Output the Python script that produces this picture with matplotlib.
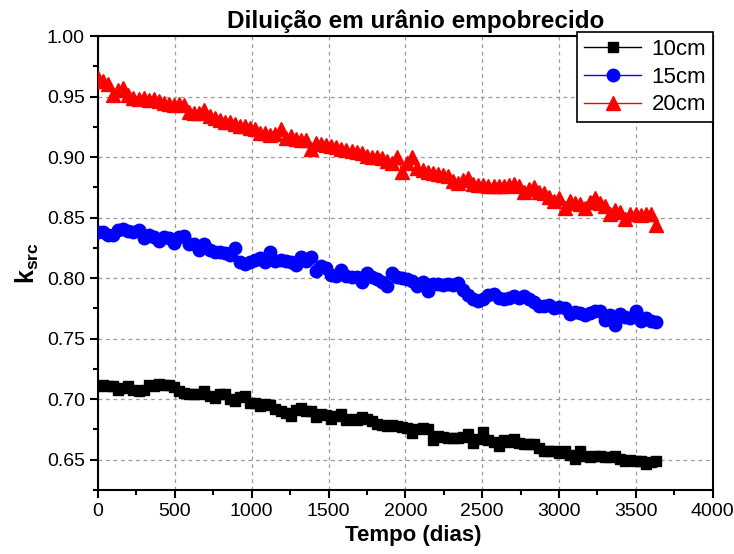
import matplotlib
matplotlib.use("Agg")
import matplotlib.pyplot as plt
from matplotlib.ticker import MultipleLocator

plt.rcParams['font.family'] = ['Liberation Sans', 'DejaVu Sans']
plt.rcParams['mathtext.fontset'] = 'custom'
plt.rcParams['mathtext.rm'] = 'Liberation Sans'
plt.rcParams['mathtext.bf'] = 'Liberation Sans:bold'

days = list(range(0, 3631, 33))

k_10cm = [0.711, 0.712, 0.711, 0.711, 0.708, 0.709, 0.711, 0.708, 0.707, 0.708,
          0.712, 0.711, 0.7125, 0.712, 0.712, 0.710, 0.707, 0.705, 0.704, 0.704,
          0.704, 0.707, 0.703, 0.701, 0.704, 0.704, 0.700, 0.6985, 0.702, 0.7025,
          0.697, 0.697, 0.6945, 0.696, 0.695, 0.692, 0.690, 0.689, 0.6865, 0.691,
          0.693, 0.690, 0.690, 0.6855, 0.688, 0.687, 0.684, 0.686, 0.688, 0.683,
          0.6835, 0.683, 0.685, 0.684, 0.682, 0.6795, 0.679, 0.678, 0.679, 0.678,
          0.677, 0.6765, 0.6725, 0.675, 0.6765, 0.675, 0.666, 0.670, 0.669, 0.668,
          0.668, 0.668, 0.669, 0.671, 0.664, 0.667, 0.673, 0.666, 0.665, 0.6615,
          0.666, 0.665, 0.6675, 0.664, 0.663, 0.663, 0.663, 0.660, 0.6575, 0.6575,
          0.657, 0.6555, 0.657, 0.654, 0.651, 0.657, 0.653, 0.6525, 0.653, 0.6535,
          0.652, 0.6525, 0.653, 0.651, 0.649, 0.650, 0.649, 0.649, 0.6465, 0.648,
          0.649]

k_15cm = [0.838, 0.838, 0.836, 0.836, 0.840, 0.841, 0.839, 0.838, 0.840, 0.833,
          0.836, 0.834, 0.831, 0.834, 0.833, 0.829, 0.834, 0.835, 0.828, 0.828,
          0.823, 0.828, 0.823, 0.822, 0.822, 0.821, 0.8195, 0.8245, 0.813, 0.812,
          0.813, 0.815, 0.817, 0.813, 0.822, 0.814, 0.815, 0.814, 0.813, 0.811,
          0.8175, 0.814, 0.8175, 0.806, 0.810, 0.808, 0.803, 0.802, 0.807, 0.802,
          0.801, 0.801, 0.797, 0.804, 0.801, 0.799, 0.797, 0.7935, 0.804, 0.801,
          0.800, 0.799, 0.798, 0.7935, 0.797, 0.789, 0.795, 0.795, 0.794, 0.795,
          0.794, 0.796, 0.790, 0.786, 0.783, 0.781, 0.783, 0.786, 0.787, 0.784,
          0.783, 0.784, 0.785, 0.784, 0.785, 0.783, 0.780, 0.777, 0.777, 0.778,
          0.775, 0.776, 0.775, 0.7705, 0.772, 0.7715, 0.7695, 0.771, 0.773, 0.773,
          0.7655, 0.7695, 0.7615, 0.7705, 0.768, 0.767, 0.7725, 0.765, 0.767, 0.765,
          0.7635]

k_20cm = [0.965, 0.963, 0.960, 0.951, 0.955, 0.957, 0.951, 0.949, 0.948, 0.949,
          0.947, 0.948, 0.946, 0.945, 0.944, 0.943, 0.944, 0.943, 0.937, 0.936,
          0.936, 0.939, 0.934, 0.932, 0.931, 0.929, 0.929, 0.927, 0.926, 0.926,
          0.924, 0.923, 0.920, 0.920, 0.918, 0.919, 0.923, 0.916, 0.917, 0.915,
          0.914, 0.914, 0.907, 0.912, 0.911, 0.910, 0.909, 0.908, 0.907, 0.906,
          0.905, 0.904, 0.903, 0.901, 0.900, 0.900, 0.899, 0.897, 0.895, 0.900,
          0.888, 0.895, 0.900, 0.891, 0.889, 0.888, 0.887, 0.886, 0.885, 0.884,
          0.880, 0.879, 0.881, 0.883, 0.878, 0.877, 0.877, 0.876, 0.876, 0.876,
          0.876, 0.877, 0.878, 0.876, 0.871, 0.874, 0.875, 0.871, 0.870, 0.867,
          0.864, 0.866, 0.858, 0.864, 0.862, 0.861, 0.858, 0.863, 0.866, 0.862,
          0.860, 0.853, 0.856, 0.855, 0.849, 0.853, 0.853, 0.852, 0.853, 0.853,
          0.844]

series_labels = ['10cm', '15cm', '20cm']
title = 'Diluição em urânio empobrecido'
xlabel = 'Tempo (dias)'
ylabel = r'$\mathbf{k_{src}}$'

fig = plt.figure(figsize=(7.34, 5.54), dpi=100)
ax = fig.add_axes([0.1335, 0.1155, 0.8375, 0.8195])

ax.plot(days, k_10cm, color='black', marker='s', markersize=7.5, lw=1, label=series_labels[0], zorder=3)
ax.plot(days, k_15cm, color='blue', marker='o', markersize=9, lw=1, label=series_labels[1], zorder=3)
ax.plot(days, k_20cm, color='red', marker='^', markersize=10, lw=1, label=series_labels[2], zorder=3)

ax.set_xlim(0, 4000)
ax.set_ylim(0.625, 1.0)
ax.xaxis.set_major_locator(MultipleLocator(500))
ax.xaxis.set_minor_locator(MultipleLocator(250))
ax.yaxis.set_major_locator(MultipleLocator(0.05))
ax.yaxis.set_minor_locator(MultipleLocator(0.025))
ax.yaxis.set_major_formatter(matplotlib.ticker.FormatStrFormatter('%.2f'))

ax.grid(True, which='major', linestyle=(0, (3, 3)), color='#9a9a9a', linewidth=0.9)
ax.tick_params(which='major', direction='out', length=6, width=1.5, labelsize=14, top=False, right=False)
ax.tick_params(which='minor', direction='out', length=3.5, width=1.5, top=False, right=False)
for s in ax.spines.values():
    s.set_linewidth(1.5)

ax.set_title(title, fontsize=17.5, fontweight='bold', pad=6, x=0.517)
ax.set_xlabel(xlabel, fontsize=16, fontweight='bold', labelpad=5)
ax.xaxis.set_label_coords(0.513, -0.078)
ax.set_ylabel(ylabel, fontsize=18, labelpad=4)

leg = ax.legend(loc='upper right', fontsize=16, frameon=True, fancybox=False,
                edgecolor='black', framealpha=1, borderaxespad=0,
                bbox_to_anchor=(1.0, 1.008),
                handlelength=2.6, borderpad=0.3, labelspacing=0.3, handletextpad=0.45)
leg.get_frame().set_linewidth(1.2)

fig.savefig('out.png', dpi=100)
